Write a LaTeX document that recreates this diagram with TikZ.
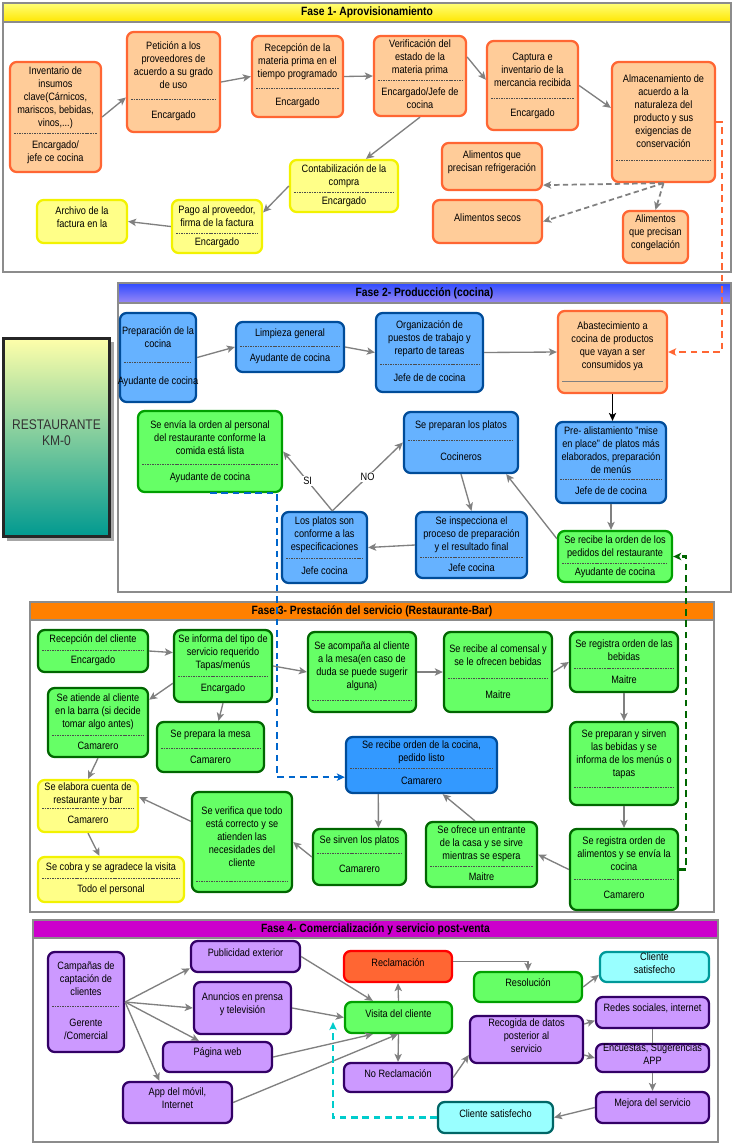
\documentclass[tikz,border=0pt]{standalone}
\usepackage{fontspec}
\setmainfont[FakeStretch=0.86]{Liberation Sans}
\usetikzlibrary{arrows.meta,positioning,fit}

\definecolor{orangefill}{HTML}{FFCC99}
\definecolor{orangeline}{HTML}{FF6633}
\definecolor{yellowfill}{HTML}{FFFF88}
\definecolor{yellowline}{HTML}{F2F200}
\definecolor{bluefill}{HTML}{66B2FF}
\definecolor{bluedeep}{HTML}{3399FF}
\definecolor{blueline}{HTML}{004C99}
\definecolor{greenfill}{HTML}{66FF66}
\definecolor{greenline}{HTML}{00A000}
\definecolor{greendark}{HTML}{006600}
\definecolor{purplefill}{HTML}{CC99FF}
\definecolor{purpleline}{HTML}{330066}
\definecolor{claimfill}{HTML}{FF6633}
\definecolor{cyanfill}{HTML}{99FFFF}
\definecolor{cyanline}{HTML}{009999}
\definecolor{cyandark}{HTML}{006666}
\definecolor{cyandash}{HTML}{00CCCC}
\definecolor{bluedash}{HTML}{0066CC}
\definecolor{flowgray}{HTML}{808080}
\definecolor{framegray}{HTML}{8C8C8C}
\definecolor{yellowtop}{HTML}{FFFF77}
\definecolor{yellowbot}{HTML}{FFE600}
\definecolor{bluetop}{HTML}{2E4BFF}
\definecolor{bluebot}{HTML}{9A88F5}
\definecolor{restotop}{HTML}{FFFFAA}
\definecolor{restomid}{HTML}{8AD4A4}
\definecolor{restobot}{HTML}{009990}

% task box in two parts: name, style, x1, y1, x2, y2, y of the split, upper text, lower text
\newcommand{\taskcard}[9]{%
  \node[#2, fit={(#3,#4) (#5,#6)}] (#1) {};
  \draw[divider] ({#3+4},#7) -- ({#5-4},#7);
  \node[align=center] at ({(#3+#5)/2},{(#4+#7)/2}) {#8};
  \node[align=center] at ({(#3+#5)/2},{(#7+#6)/2}) {#9};
}

\begin{document}
\begin{tikzpicture}[
  x=0.75pt, y=-0.75pt,
  > = {Stealth[length=6pt,width=5.5pt,inset=1.5pt]},
  every node/.style={font=\fontsize{8}{9.7}\selectfont, inner sep=1pt},
  task/.style={rounded corners=5pt, line width=1.7pt, inner sep=0pt, align=center},
  orange task/.style={task, draw=orangeline, fill=orangefill},
  yellow task/.style={task, draw=yellowline, fill=yellowfill},
  blue task/.style={task, draw=blueline, fill=bluefill},
  order task/.style={task, draw=blueline, fill=bluedeep},
  green task/.style={task, draw=greenline, fill=greenfill},
  dark green task/.style={task, draw=greendark, fill=greenfill},
  purple task/.style={task, draw=purpleline, fill=purplefill},
  claim task/.style={task, draw=red, fill=claimfill},
  happy task/.style={task, draw=cyanline, fill=cyanfill},
  divider/.style={line width=0.5pt, draw=black!70, dash pattern=on 1.2pt off 0.7pt},
  flow/.style={->, draw=flowgray, line width=1pt},
  store link/.style={->, draw=flowgray, line width=1.3pt, dash pattern=on 4pt off 2.5pt},
  link/.style={->, line width=1.6pt, dash pattern=on 5pt off 3.5pt},
  decision/.style={fill=white, inner sep=1pt},
  phase/.style={draw=framegray, line width=1.4pt, fill=white},
  phase title/.style={font=\fontsize{9}{11}\selectfont\bfseries},
  ]
  \useasboundingbox (0,0) rectangle (733,1147);

  % phases
  \draw[phase] (3,3) rectangle (731,272);
  \shade[top color=yellowtop, bottom color=yellowbot] (3,3) rectangle (731,22);
  \draw[phase, fill=none] (3,3) rectangle (731,22);
  \node[phase title] (fase1) at (367,12.5) {Fase 1- Aprovisionamiento};

  \draw[phase] (118,283) rectangle (731,592);
  \shade[top color=bluetop, bottom color=bluebot] (118,283) rectangle (731,303);
  \draw[phase, fill=none] (118,283) rectangle (731,303);
  \node[phase title] (fase2) at (424.5,293) {Fase 2- Producción (cocina)};

  \draw[phase] (30,602) rectangle (714,912);
  \fill[fill={rgb,255:red,255;green,128;blue,0}] (30,602) rectangle (714,620);
  \draw[phase, fill=none] (30,602) rectangle (714,620);
  \node[phase title] (fase3) at (372,611) {Fase 3- Prestación del servicio (Restaurante-Bar)};

  \draw[phase] (33,920) rectangle (718,1142);
  \fill[fill={rgb,255:red,204;green,0;blue,204}] (33,920) rectangle (718,938);
  \draw[phase, fill=none] (33,920) rectangle (718,938);
  \node[phase title] (fase4) at (375.5,929) {Fase 4- Comercialización y servicio post-venta};

  % restaurante
  \fill[black!35] (7,342) rectangle (114,541);
  \node[fit={(3,338) (110,537)}, inner sep=0pt, draw=black!85, line width=0.8pt,
    top color=restotop, middle color=restomid, bottom color=restobot,
    align=center, font=\fontsize{10.5}{12.5}\selectfont, text=black!80] (resto) {RESTAURANTE\\KM-0};
  \draw[black!85, line width=0.6pt] ([shift={(1.6pt,-1.6pt)}]resto.north west) rectangle ([shift={(-1.6pt,1.6pt)}]resto.south east);

  % Fase 1
  \taskcard{inv}{orange task}{10}{62}{101}{172}{133}{Inventario de\\insumos\\clave(Cárnicos,\\mariscos, bebidas,\\vinos,...)}{Encargado/\\jefe ce cocina}
  \taskcard{pet}{orange task}{127}{32}{220}{132}{99}{Petición a los\\proveedores de\\acuerdo a su grado\\de uso}{Encargado}
  \taskcard{rec}{orange task}{252}{36}{343}{117}{88}{Recepción de la\\materia prima en el\\tiempo programado}{Encargado}
  \taskcard{ver}{orange task}{374}{36}{466}{116}{80}{Verificación del\\estado de la\\materia prima}{Encargado/Jefe de\\cocina}
  \taskcard{cap}{orange task}{487}{41}{578}{130}{98}{Captura e\\inventario de la\\mercancia recibida}{Encargado}
  \taskcard{alm}{orange task}{612}{62}{715}{182}{160}{Almacenamiento de\\acuerdo a la\\naturaleza del\\producto y sus\\exigencias de\\conservación}{}
  \node[orange task, fit={(442,143) (542,190)}] (refr) {Alimentos que\\precisan refrigeración};
  \node[orange task, fit={(433,200) (542,243)}] (secos) {Alimentos secos};
  \node[orange task, fit={(623,211) (688,263)}] (cong) {Alimentos\\que precisan\\congelación};
  \taskcard{con}{yellow task}{290}{160}{398}{212}{192}{Contabilización de la\\compra}{Encargado}
  \taskcard{pago}{yellow task}{172}{200}{262}{253}{233}{Pago al proveedor,\\firma de la factura}{Encargado}
  \node[yellow task, fit={(37,200) (127,243)}] (arch) {Archivo de la\\factura en la};

  % Fase 2
  \taskcard{prep}{blue task}{120}{313}{196}{402}{362}{Preparación de la\\cocina}{Ayudante de cocina}
  \taskcard{limp}{blue task}{236}{322}{344}{372}{346}{Limpieza general}{Ayudante de cocina}
  \taskcard{org}{blue task}{376}{313}{483}{392}{364}{Organización de\\puestos de trabajo y\\reparto de tareas}{Jefe de de cocina}
  \begin{scope}[divider/.style={draw=gray, line width=0.6pt}]
    \taskcard{aba}{orange task}{558}{311}{667}{393}{381}{Abastecimiento a\\cocina de productos\\que vayan a ser\\consumidos ya}{}
  \end{scope}
  \taskcard{pre}{blue task}{556}{422}{666}{503}{479}{Pre- alistamiento "mise\\en place" de platos más\\elaborados, preparación\\de menús}{Jefe de de cocina}
  \taskcard{recib}{green task}{558}{531}{672}{582}{563}{Se recibe la orden de los\\pedidos del restaurante}{Ayudante de cocina}
  \taskcard{prepl}{blue task}{404}{412}{518}{473}{440}{Se preparan los platos}{Cocineros}
  \taskcard{insp}{blue task}{416}{512}{527}{578}{557}{Se inspecciona el\\proceso de preparación\\y el resultado final}{Jefe cocina}
  \taskcard{conf}{blue task}{282}{512}{367}{583}{558}{Los platos son\\conforme a las\\especificaciones}{Jefe cocina}
  \taskcard{envia}{green task}{138}{411}{282}{492}{464}{Se envía la orden al personal\\del restaurante conforme la\\comida está lista}{Ayudante de cocina}

  % Fase 3
  \taskcard{recep}{dark green task}{38}{630}{148}{672}{650}{Recepción del cliente}{Encargado}
  \taskcard{inform}{dark green task}{174}{630}{272}{702}{676}{Se informa del tipo de\\servicio requerido\\Tapas/menús}{Encargado}
  \taskcard{atiende}{dark green task}{48}{688}{148}{757}{735}{Se atiende al cliente\\en la barra (si decide\\tomar algo antes)}{Camarero}
  \taskcard{mesa}{dark green task}{157}{722}{264}{772}{748}{Se prepara la mesa}{Camarero}
  \taskcard{acomp}{dark green task}{308}{632}{416}{712}{700}{Se acompaña al cliente\\a la mesa(en caso de\\duda se puede sugerir\\alguna)}{}
  \taskcard{comen}{dark green task}{444}{632}{552}{712}{678}{Se recibe al comensal y\\se le ofrecen bebidas}{Maitre}
  \taskcard{regbeb}{dark green task}{570}{632}{678}{692}{668}{Se registra orden de las\\bebidas}{Maitre}
  \taskcard{prepbeb}{dark green task}{570}{722}{678}{805}{787}{Se preparan y sirven\\las bebidas y se\\informa de los menús o\\tapas}{}
  \taskcard{cocina}{order task}{346}{737}{497}{793}{768}{Se recibe orden de la cocina,\\pedido listo}{Camarero}
  \taskcard{regalim}{dark green task}{570}{829}{678}{910}{879}{Se registra orden de\\alimentos y se envía la\\cocina}{Camarero}
  \taskcard{ofrece}{dark green task}{426}{822}{537}{887}{866}{Se ofrece un entrante\\de la casa y se sirve\\mientras se espera}{Maitre}
  \taskcard{sirven}{dark green task}{313}{829}{406}{885}{853}{Se sirven los platos}{Camarero}
  \taskcard{verif}{dark green task}{192}{792}{292}{892}{881}{Se verifica que todo\\está correcto y se\\atienden las\\necesidades del\\cliente}{}
  \taskcard{elabora}{yellow task}{38}{780}{138}{832}{808}{Se elabora cuenta de\\restaurante y bar}{Camarero}
  \taskcard{cobra}{yellow task}{38}{857}{184}{902}{878}{Se cobra y se agradece la visita}{Todo el personal}

  % Fase 4
  \taskcard{camp}{purple task}{48}{952}{124}{1052}{1006}{Campañas de\\captación de\\clientes}{Gerente\\/Comercial}
  \node[purple task, fit={(191,941) (300,972)}] (pub) {Publicidad exterior};
  \node[purple task, fit={(194,982) (291,1034)}] (anun) {Anuncios en prensa\\y televisión};
  \node[purple task, fit={(163,1042) (272,1072)}] (web) {Página web};
  \node[purple task, fit={(123,1082) (232,1123)}] (app) {App del móvil,\\Internet};
  \node[claim task, fit={(344,951) (452,982)}] (recl) {Reclamación};
  \node[green task, fit={(345,1002) (452,1033)}] (visita) {Visita del cliente};
  \node[purple task, fit={(344,1063) (452,1092)}] (norecl) {No Reclamación};
  \node[green task, fit={(474,972) (582,1002)}] (resol) {Resolución};
  \node[happy task, fit={(600,952) (709,982)}] (clisat) {Cliente\\satisfecho};
  \node[purple task, fit={(596,997) (709,1028)}] (redes) {Redes sociales, internet};
  \node[purple task, fit={(470,1016) (583,1063)}] (recog) {Recogida de datos\\posterior al\\servicio};
  \node[purple task, fit={(596,1044) (709,1072)}] (encue) {Encuestas, Sugerencias\\APP};
  \node[purple task, fit={(596,1092) (709,1123)}] (mejora) {Mejora del servicio};
  \node[happy task, draw=cyandark, fit={(438,1102) (553,1133)}] (satisf) {Cliente satisfecho};

  % Fase 1 connectors
  \draw[flow] (inv.east) -- (pet.198);
  \draw[flow] (pet.east) -- (rec.west);
  \draw[flow] (rec.east) -- (ver.west);
  \draw[flow] (ver.22) -- (cap.173);
  \draw[flow] (cap.east) -- (alm.165);
  \draw[flow] (ver.south) -- (con.51);
  \draw[flow] (con.west) -- (pago.17);
  \draw[flow] (pago.west) -- (arch.east);
  \draw[store link] (alm.south) -- (refr.-20);
  \draw[store link] (alm.south) -- (secos.east);
  \draw[store link] (alm.south) -- (cong.north);
  \coordinate (obend) at (722,240);
  \draw[link, orangeline] (alm.east) -| (obend) |- (aba.east);

  % Fase 2 connectors
  \draw[flow] (prep.east) -- (limp.west);
  \draw[flow] (limp.east) -- (org.west);
  \draw[flow] (org.east) -- (aba.west);
  \draw[->, line width=0.8pt] (aba.south) -- (aba.south |- pre.north);
  \draw[flow] (pre.south) -- (pre.south |- recib.north);
  \draw[flow] (recib.163) -- (prepl.-35);
  \draw[flow] (prepl.south) -- (insp.north);
  \draw[flow] (insp.west) -- (conf.east);
  \draw[flow] (conf.78) -- node[decision] {NO} (prepl.west);
  \draw[flow] (conf.78) -- node[decision] {SI} (envia.east);
  \coordinate (bbend) at (277,600);
  \draw[link, bluedash] (envia.south) -| (bbend) |- (cocina.189);
  \coordinate (gbend) at (686,700);
  \draw[link, greendark] (regalim.east) -| (gbend) |- (recib.east);

  % Fase 3 connectors
  \draw[flow] (recep.east) -- (inform.165);
  \draw[flow] (inform.199) -- (atiende.24);
  \draw[flow] (inform.south) -- (mesa.73);
  \draw[flow] (inform.east) -- (acomp.west);
  \draw[flow] (acomp.east) -- (comen.west);
  \draw[flow] (comen.east) -- (regbeb.west);
  \draw[flow] (regbeb.south) -- (prepbeb.north);
  \draw[flow] (prepbeb.south) -- (regalim.north);
  \draw[flow] (regalim.west) -- (ofrece.east);
  \draw[flow] (ofrece.101) -- (cocina.-54);
  \draw[flow] (cocina.214) -- (sirven.57);
  \draw[flow] (sirven.west) -- (verif.east);
  \draw[flow] (verif.158) -- (elabora.10);
  \draw[flow] (atiende.south) -- (elabora.north);
  \draw[flow] (elabora.south) -- (cobra.116);

  % Fase 4 connectors
  \draw[flow] (camp.east) -- (pub.192);
  \draw[flow] (camp.east) -- (anun.west);
  \draw[flow] (camp.east) -- (web.139);
  \draw[flow] (camp.east) -- (app.130);
  \draw[flow] (pub.east) -- (visita.147);
  \draw[flow] (anun.east) -- (visita.west);
  \draw[flow] (web.east) -- (visita.213);
  \draw[flow] (app.east) -- (visita.268);
  \draw[flow] (visita.north) -- (recl.south);
  \draw[flow] (visita.south) -- (norecl.north);
  \draw[flow] (recl.5) -| (resol.north);
  \draw[flow] (resol.east) -- (clisat.188);
  \draw[flow] (norecl.east) -- (recog.195);
  \draw[flow] (recog.15) -- (redes.188);
  \draw[flow] (recog.-15) -- (encue.west);
  \draw[draw=flowgray, line width=1pt] (redes.south) -- (encue.north);
  \draw[flow] (encue.south) -- (mejora.north);
  \draw[flow] (mejora.west) -- (satisf.east);
  \coordinate (cyanend) at (333,1022);
  \draw[link, cyandash] (satisf.west) -| (cyanend);
\end{tikzpicture}
\end{document}
